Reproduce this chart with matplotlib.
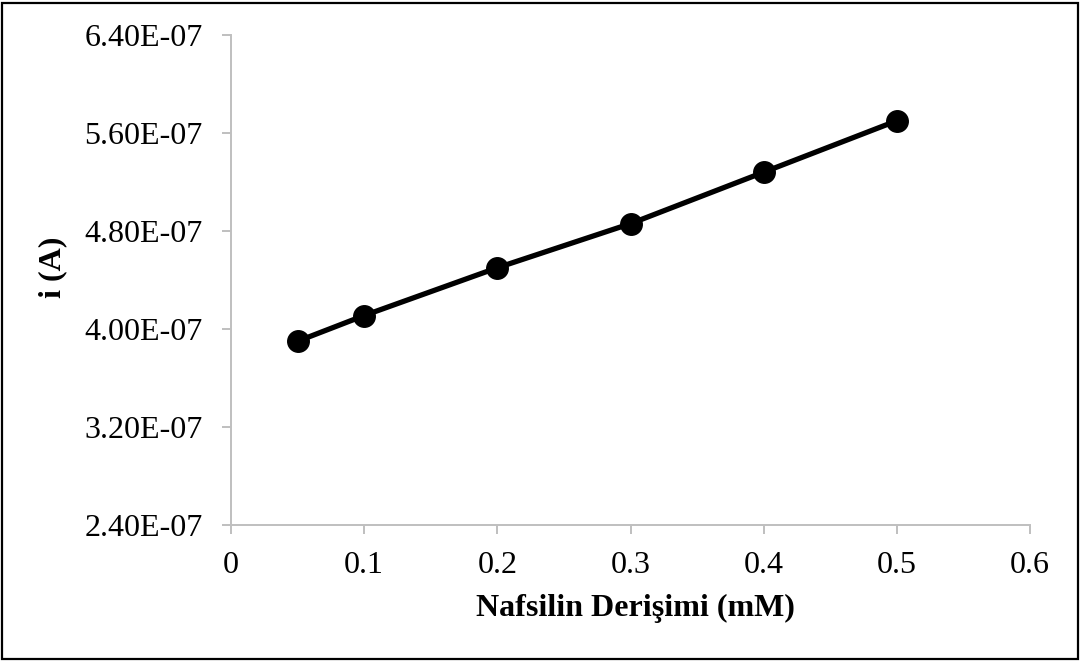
import matplotlib
matplotlib.use("Agg")
import matplotlib.pyplot as plt
from matplotlib.patches import Rectangle
from matplotlib.ticker import FuncFormatter, MultipleLocator

# Nafsilin concentration (mM) vs. peak current (A)
concentration = [0.05, 0.1, 0.2, 0.3, 0.4, 0.5]
current = [3.90e-07, 4.11e-07, 4.50e-07, 4.86e-07, 5.28e-07, 5.70e-07]

plt.rcParams["font.family"] = ["Liberation Serif", "DejaVu Serif"]

W, H = 1081, 661
fig = plt.figure(figsize=(W / 100, H / 100), dpi=100)
ax = fig.add_axes([231 / W, 1 - 525 / H, (1030 - 231) / W, (525 - 35) / H])

ax.plot(concentration, current, color="black", lw=3.8,
        marker="o", markersize=15.5, markerfacecolor="black",
        markeredgecolor="black", solid_capstyle="round")

ax.set_xlim(0, 0.6)
ax.set_ylim(2.4e-07, 6.4e-07)
ax.xaxis.set_major_locator(MultipleLocator(0.1))
ax.yaxis.set_major_locator(MultipleLocator(0.8e-07))


def sci_fmt(v, pos):
    m, e = f"{v:.2E}".split("E")
    return f"{m}E{int(e):+03d}".replace("+", "")


ax.yaxis.set_major_formatter(FuncFormatter(sci_fmt))
ax.xaxis.set_major_formatter(FuncFormatter(lambda v, p: f"{v:.1f}".rstrip("0").rstrip(".") if v else "0"))

grey = "#BFBFBF"
for side in ("top", "right"):
    ax.spines[side].set_visible(False)
for side in ("left", "bottom"):
    ax.spines[side].set_color(grey)
    ax.spines[side].set_linewidth(1.4)

ax.tick_params(axis="both", direction="out", length=6.5, width=1.4,
               color=grey, labelsize=23, labelcolor="black")
ax.tick_params(axis="y", pad=14)
ax.tick_params(axis="x", pad=12)

ax.set_xlabel("Nafsilin Derişimi (mM)", fontsize=23, fontweight="bold")
ax.set_ylabel("i (A)", fontsize=23, fontweight="bold")
ax.xaxis.set_label_coords(0.506, -0.141)
ax.yaxis.set_label_coords(-0.205, 0.5255)

# frame around the whole figure
fig.patches.append(Rectangle((2 / W, 2 / H), 1 - 5 / W, 1 - 5 / H,
                             transform=fig.transFigure, fill=False,
                             edgecolor="black", linewidth=1.6))

fig.savefig("out.png", dpi=100)
